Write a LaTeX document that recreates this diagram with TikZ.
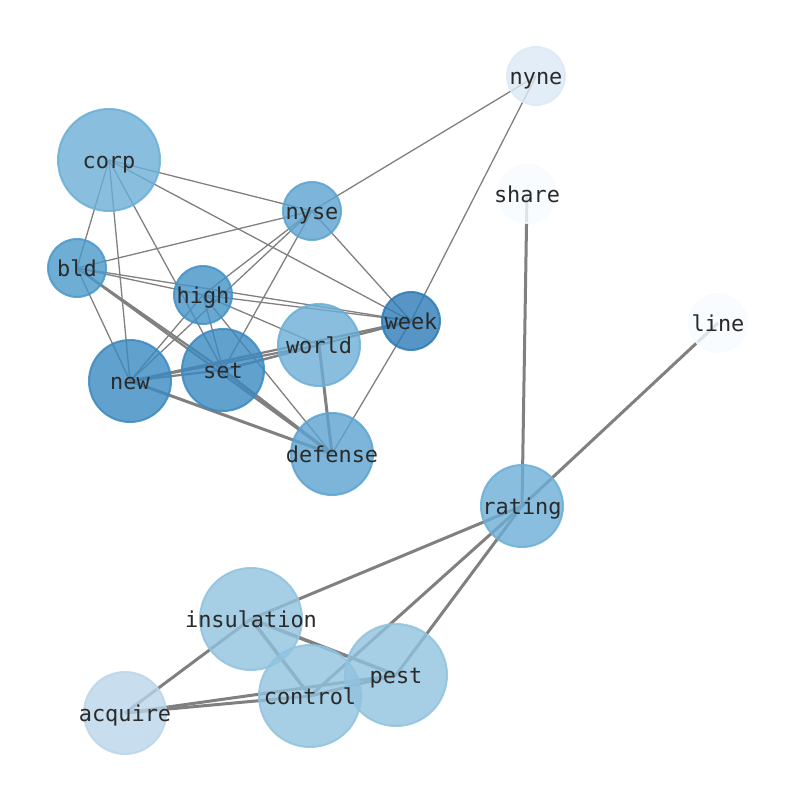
\documentclass[tikz,border=0pt]{standalone}
\usepackage{fontspec}
\setmainfont{DejaVu Sans Mono}
\usetikzlibrary{backgrounds}
\definecolor{cA}{HTML}{F7FBFF}
\definecolor{cB}{HTML}{DBE9F6}
\definecolor{cC}{HTML}{BAD5E9}
\definecolor{cD}{HTML}{90C2DE}
\definecolor{cE}{HTML}{6BAED6}
\definecolor{cF}{HTML}{5BA3D0}
\definecolor{cG}{HTML}{4A98C9}
\definecolor{cH}{HTML}{4292C6}
\definecolor{cJ}{HTML}{3A89C1}
\definecolor{cI}{HTML}{2C7BB6}
\definecolor{edgegray}{HTML}{808080}
\definecolor{labelgray}{HTML}{2A2A2A}
\tikzset{
  gnode/.style={circle, inner sep=0pt, line width=2bp, fill opacity=0.8, draw opacity=0.85, text opacity=1,
    text=labelgray, text height=17.6bp, text depth=1.2bp, text width=0pt, align=center,
    font=\fontsize{21.9bp}{26bp}\selectfont},
  small/.style={minimum size=58bp},
  mid/.style={minimum size=82bp},
  big/.style={minimum size=102bp},
  thin/.style={draw=edgegray, line width=1.3bp},
  med/.style={draw=edgegray, line width=2.2bp},
  thick/.style={draw=edgegray, line width=3bp},
}
\newcommand{\lbl}[1]{\makebox[0pt][c]{#1}}
\begin{document}
\begin{tikzpicture}[x=1bp,y=-1bp]
\useasboundingbox (0,0) rectangle (794,790);
% nodes
\node[gnode, small, fill=cB, draw=cB] (nyne) at (536,76) {\lbl{nyne}};
\node[gnode, big, fill=cE, draw=cE] (corp) at (109,160) {\lbl{corp}};
\node[gnode, small, fill=cF, draw=cF] (nyse) at (312,211) {\lbl{nyse}};
\node[gnode, small, fill=cA, draw=cA] (share) at (527,194) {\lbl{share}};
\node[gnode, small, fill=cG, draw=cG] (bld) at (77,268) {\lbl{bld}};
\node[gnode, small, fill=cH, draw=cH] (high) at (203,295) {\lbl{high}};
\node[gnode, small, fill=cI, draw=cI] (week) at (411,321) {\lbl{week}};
\node[gnode, small, fill=cA, draw=cA] (line) at (718,323) {\lbl{line}};
\node[gnode, mid, fill=cE, draw=cE] (world) at (319,345) {\lbl{world}};
\node[gnode, mid, fill=cJ, draw=cJ] (new) at (130,381) {\lbl{new}};
\node[gnode, mid, fill=cJ, draw=cJ] (set) at (223,370) {\lbl{set}};
\node[gnode, mid, fill=cF, draw=cF] (defense) at (332,454) {\lbl{defense}};
\node[gnode, mid, fill=cE, draw=cE] (rating) at (522,506) {\lbl{rating}};
\node[gnode, big, fill=cD, draw=cD] (insulation) at (251,619) {\lbl{insulation}};
\node[gnode, big, fill=cD, draw=cD] (pest) at (396,675) {\lbl{pest}};
\node[gnode, big, fill=cD, draw=cD] (control) at (310,696) {\lbl{control}};
\node[gnode, mid, fill=cC, draw=cC] (acquire) at (125,713) {\lbl{acquire}};
% edges
\begin{scope}[on background layer]
\foreach \a/\b in {corp/nyse, corp/week, corp/bld, corp/new, corp/set,
  nyse/nyne, nyse/bld, nyse/high, nyse/new, nyse/set, nyse/week,
  bld/high, bld/week, bld/new, high/week, high/world, high/set, high/new, high/defense,
  week/nyne, week/defense}
  \draw[thin] (\a.center) -- (\b.center);
\foreach \a/\b in {bld/set, bld/defense, set/week, new/world, new/week, set/world, new/set}
  \draw[med] (\a.center) -- (\b.center);
\foreach \a/\b in {new/defense, world/defense, set/defense, share/rating, line/rating,
  rating/insulation, rating/control, rating/pest, insulation/acquire,
  acquire/control, acquire/pest, control/pest}
  \draw[thick] (\a.center) -- (\b.center);
\foreach \a/\b in {insulation/control, insulation/pest}
  \draw[thick, line width=3.5bp] (\a.center) -- (\b.center);
\end{scope}
\end{tikzpicture}
\end{document}
